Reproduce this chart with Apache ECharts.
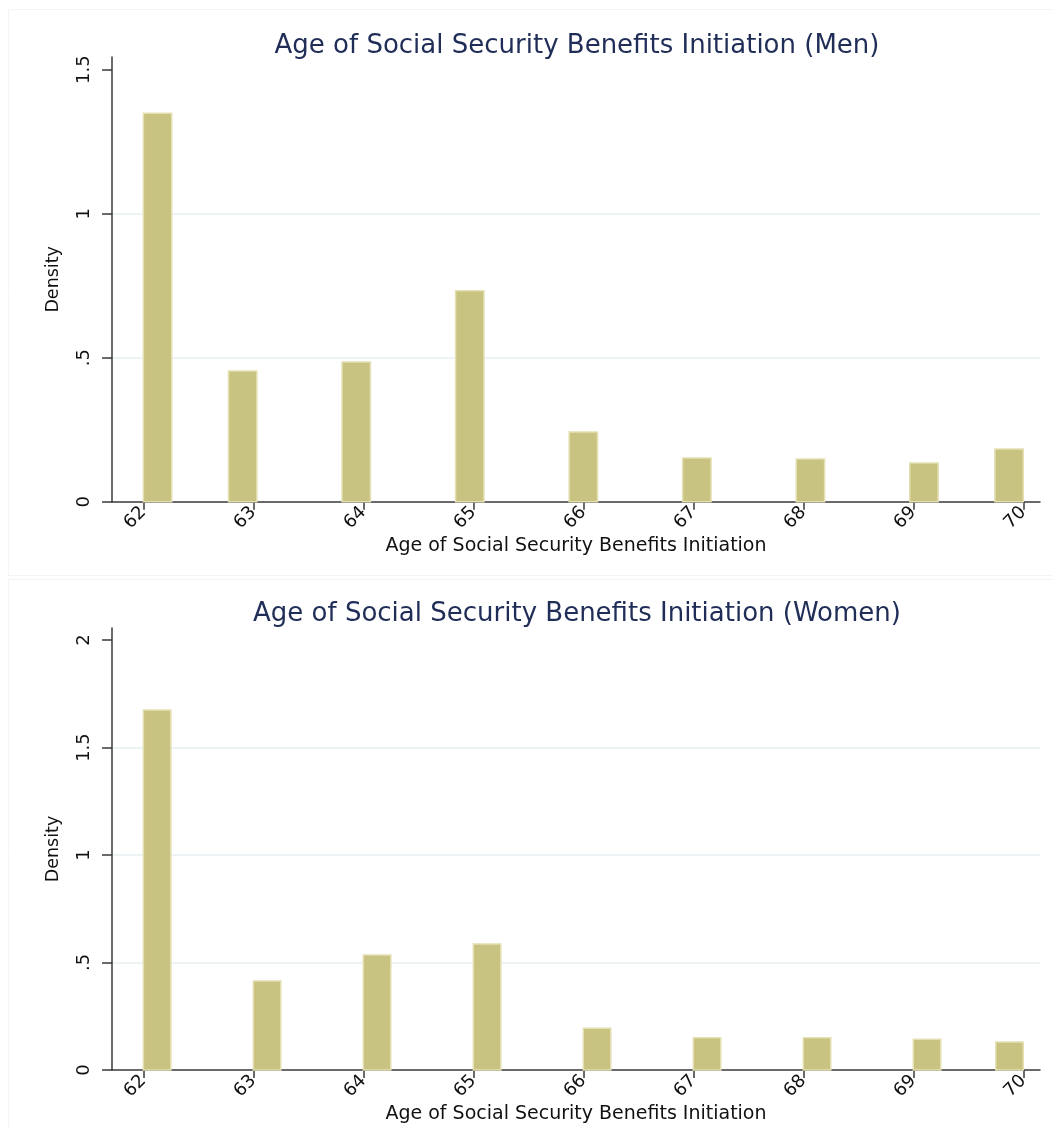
<!DOCTYPE html>
<html>
<head>
<meta charset="utf-8">
<title>Age of Social Security Benefits Initiation</title>
<script src="https://cdn.jsdelivr.net/npm/echarts@6/dist/echarts.min.js"></script>
<style>
  html, body { margin: 0; padding: 0; background: #ffffff; }
  #chart { width: 1052px; height: 1129px; }
</style>
</head>
<body>
<div id="chart"></div>
<script>
// Ages at which benefits were first claimed (one histogram bar per age)
const ages = [62, 63, 64, 65, 66, 67, 68, 69, 70];
// Histogram densities by age
const menDensity = [1.349, 0.454, 0.485, 0.732, 0.242, 0.152, 0.148, 0.134, 0.183];
const womenDensity = [1.674, 0.414, 0.535, 0.586, 0.194, 0.150, 0.150, 0.143, 0.130];
// Number of histogram bins spanning 62..70 in each panel
const menBins = 31;
const womenBins = 32;
// Axis ticks and labels
const xTicks = [62, 63, 64, 65, 66, 67, 68, 69, 70];
const menYTicks = [0, 0.5, 1, 1.5];
const womenYTicks = [0, 0.5, 1, 1.5, 2];

const titles = [
  'Age of Social Security Benefits Initiation (Men)',
  'Age of Social Security Benefits Initiation (Women)'
];
const xName = 'Age of Social Security Benefits Initiation';
const yName = 'Density';

const FONT = '"DejaVu Sans", "Liberation Sans", Arial, sans-serif';
const AXIS_COLOR = '#3a3a3a';
const GRID_COLOR = '#e7eff2';
const BAR_FILL = '#c9c382';
const BAR_EDGE = '#e4e0b3';
const TITLE_COLOR = '#1f2d57';

// Place each age in its histogram bin: [binStart, binEnd, density]
function binRows(density, nBins) {
  const lo = 62, hi = 70;
  const w = (hi - lo) / nBins;
  return ages.map((a, i) => {
    const k = Math.min(Math.floor((a - lo) / w + 1e-9), nBins - 1);
    return [lo + k * w, lo + (k + 1) * w, density[i]];
  });
}

function fmtY(v) {
  return String(v).replace(/^0\./, '.');
}

function renderBar(params, api) {
  const top = api.coord([api.value(0), api.value(2)]);
  const base = api.coord([api.value(1), 0]);
  return {
    type: 'rect',
    shape: { x: top[0], y: top[1], width: base[0] - top[0], height: base[1] - top[1] },
    style: { fill: BAR_FILL, stroke: BAR_EDGE, lineWidth: 1.5 }
  };
}

function xAxisFor(gridIndex) {
  return {
    type: 'value',
    gridIndex,
    min: 61.715,
    max: 70.152,
    name: xName,
    nameLocation: 'middle',
    nameGap: 35,
    nameTextStyle: { fontFamily: FONT, fontSize: 19, color: '#111' },
    axisLine: { show: true, onZero: false, lineStyle: { color: AXIS_COLOR, width: 1.5 } },
    axisTick: { show: true, length: 8, customValues: xTicks, lineStyle: { color: AXIS_COLOR, width: 1.5 } },
    axisLabel: {
      customValues: xTicks,
      rotate: 45,
      margin: 8,
      fontFamily: FONT,
      fontSize: 18,
      color: '#111'
    },
    splitLine: { show: false }
  };
}

function yAxisFor(gridIndex, max, ticks, gridColors) {
  return {
    type: 'value',
    gridIndex,
    min: 0,
    max,
    interval: 0.5,
    name: yName,
    nameLocation: 'middle',
    nameRotate: 90,
    nameGap: 50,
    nameTextStyle: { fontFamily: FONT, fontSize: 17.5, color: '#111' },
    axisLine: { show: true, lineStyle: { color: AXIS_COLOR, width: 1.5 } },
    axisTick: { show: true, length: 10, customValues: ticks, lineStyle: { color: AXIS_COLOR, width: 1.5 } },
    axisLabel: {
      customValues: ticks,
      rotate: 90,
      margin: 19,
      fontFamily: FONT,
      fontSize: 18,
      color: '#111',
      formatter: fmtY
    },
    splitLine: {
      show: true,
      showMinLine: false,
      showMaxLine: false,
      lineStyle: { color: gridColors, width: 1.5 }
    }
  };
}

const chart = echarts.init(document.getElementById('chart'), null, { renderer: 'canvas' });

chart.setOption({
  backgroundColor: '#ffffff',
  animation: false,
  title: [
    {
      text: titles[0], left: 577, top: 33, padding: 0, textAlign: 'center',
      textStyle: { fontFamily: FONT, fontSize: 26, fontWeight: 'normal', color: TITLE_COLOR }
    },
    {
      text: titles[1], left: 577, top: 601, padding: 0, textAlign: 'center',
      textStyle: { fontFamily: FONT, fontSize: 26, fontWeight: 'normal', color: TITLE_COLOR }
    }
  ],
  graphic: [
    { type: 'rect', silent: true, shape: { x: 8.5, y: 9.5, width: 1060, height: 566 },
      style: { fill: 'none', stroke: '#f4f4f4', lineWidth: 1 } },
    { type: 'rect', silent: true, shape: { x: 8.5, y: 579.5, width: 1060, height: 600 },
      style: { fill: 'none', stroke: '#f4f4f4', lineWidth: 1 } }
  ],
  grid: [
    { left: 112, right: 12, top: 57, height: 444.7, containLabel: false },
    { left: 112, right: 12, top: 628, height: 442, containLabel: false }
  ],
  xAxis: [xAxisFor(0), xAxisFor(1)],
  yAxis: [
    yAxisFor(0, 1.544, menYTicks, [GRID_COLOR]),
    yAxisFor(1, 2.056, womenYTicks, [GRID_COLOR, GRID_COLOR, GRID_COLOR, GRID_COLOR, 'rgba(0,0,0,0)', 'rgba(0,0,0,0)'])
  ],
  series: [
    {
      name: 'Men',
      type: 'custom',
      xAxisIndex: 0,
      yAxisIndex: 0,
      renderItem: renderBar,
      encode: { x: [0, 1], y: 2 },
      data: binRows(menDensity, menBins)
    },
    {
      name: 'Women',
      type: 'custom',
      xAxisIndex: 1,
      yAxisIndex: 1,
      renderItem: renderBar,
      encode: { x: [0, 1], y: 2 },
      data: binRows(womenDensity, womenBins)
    }
  ]
});
</script>
</body>
</html>
